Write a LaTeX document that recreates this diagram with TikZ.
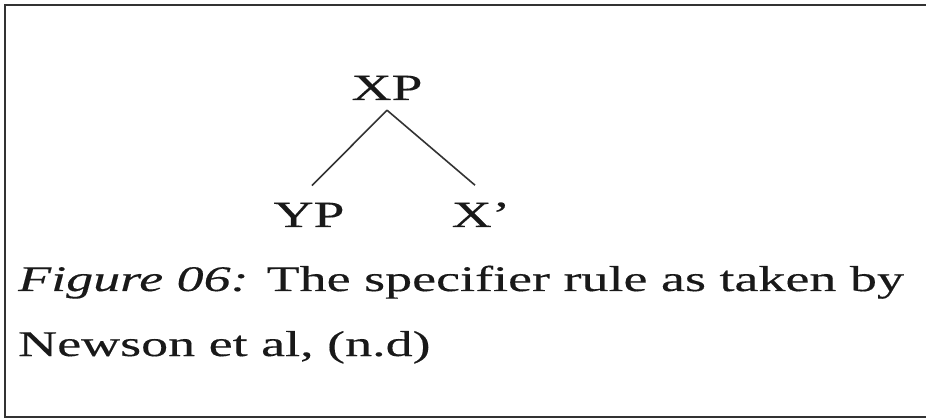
\documentclass[tikz,border=0pt]{standalone}
\usepackage{fontspec}
\setmainfont{Liberation Serif}[FakeStretch=1.5,FakeBold=0.3]
\begin{document}
\begin{tikzpicture}[x=1pt,y=-1pt,
  lab/.style={anchor=base,inner sep=0pt,text=black!90,font=\fontsize{37}{40}\selectfont},
  captext/.style={anchor=base west,inner sep=0pt,text=black!90,font=\fontsize{36}{40}\selectfont},
  branch/.style={draw=black!80,line width=1.6pt},
  frame/.style={draw=black!80,line width=2.6pt}]
\useasboundingbox (0,0) rectangle (926,419);
\fill[white] (0,0) rectangle (926,419);
\draw[frame] (930,5) -- (5,5) -- (5,417) -- (930,417);
\node[lab] (xp) at (387,100) {XP};
\node[lab] (yp) at (309,227) {YP};
\node[lab] (xb) at (481,227) {X’};
\draw[branch] ([yshift=-10pt]xp.south) -- ([xshift=3pt,yshift=17pt]yp.north);
\draw[branch] ([yshift=-10pt]xp.south) -- ([xshift=-6pt,yshift=17pt]xb.north);
\node[captext] (c1) at (18,291) {\textit{Figure 06:} The specifier rule as taken by};
\node[captext] (c2) at (18,356) {Newson et al, (n.d)};
\end{tikzpicture}
\end{document}
